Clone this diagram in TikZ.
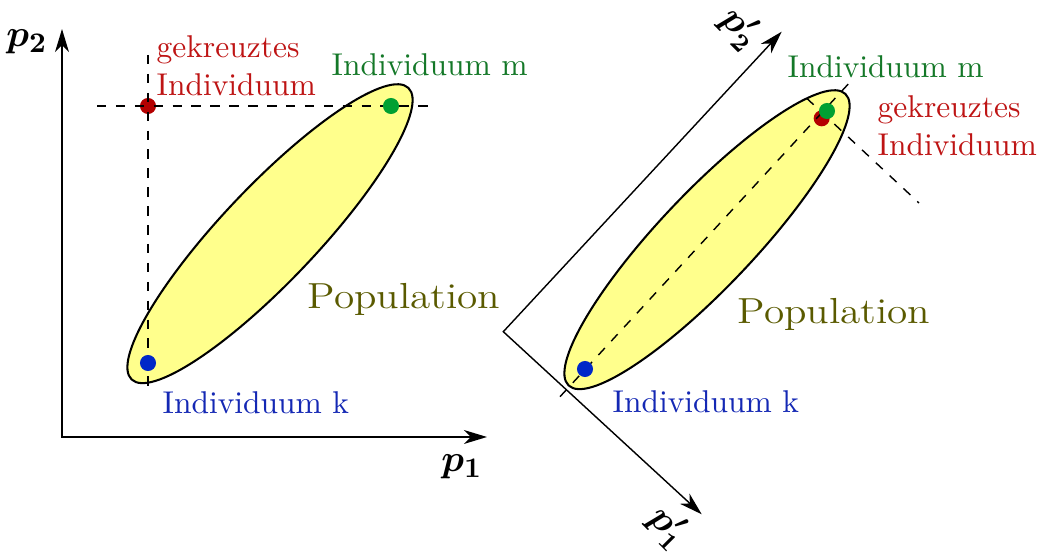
\documentclass[tikz,border=0pt]{standalone}
\usepackage{graphicx}
\usepackage{bm}
\usetikzlibrary{arrows.meta}
\definecolor{popyellow}{RGB}{255,255,140}
\definecolor{reddot}{RGB}{180,0,0}
\definecolor{redtext}{RGB}{190,20,20}
\definecolor{greendot}{RGB}{0,160,50}
\definecolor{greentext}{RGB}{20,120,40}
\definecolor{bluedot}{RGB}{0,40,200}
\definecolor{bluetext}{RGB}{20,40,180}
\definecolor{olivetext}{RGB}{90,90,0}
\begin{document}
\begin{tikzpicture}[x=0.3175pt,y=0.3175pt,
  >={Stealth[length=7.3pt,width=4.4pt,inset=2.2pt]},
  axisL/.style={line width=0.6pt,<->},
  axisR/.style={line width=0.45pt,<->},
  guide/.style={dashed,line width=0.45pt},
  pop/.style={fill=popyellow,draw=black,line width=0.65pt},
  dot/.style={circle,inner sep=0pt,minimum size=5.1pt},
  lbl/.style={inner sep=0pt,anchor=base west,font=\fontsize{10}{12}\selectfont},
  lbltwo/.style={inner sep=0pt,anchor=north west,align=left,font=\fontsize{10}{12}\selectfont},
  poplbl/.style={inner sep=0pt,anchor=base west,text=olivetext,font=\fontsize{11.5}{14}\selectfont},
  axlbl/.style={inner sep=0pt,font=\fontsize{12.5}{15}\selectfont},
  raxlbl/.style={inner sep=0pt,rotate=-45,font=\fontsize{11.5}{14}\selectfont}]
\useasboundingbox (0,0) rectangle (1043,556);

% ---------- left picture ----------
\coordinate (O) at (62,119);
\coordinate (Ytip) at (62,527);
\coordinate (Xtip) at (487,119);
\draw[axisL] (Ytip) -- (O) -- (Xtip);

\draw[pop,rotate around={46.5:(270,322.3)}] (270,322.3) ellipse [x radius=63.82pt,y radius=15.08pt];

\node[dot,fill=reddot] (rL) at (148,450) {};
\coordinate (hL1) at (97,450);
\coordinate (hL2) at (437,450);
\coordinate (vL1) at (148,501);
\coordinate (vL2) at (148,161);
\draw[guide] (hL1) -- (hL2);
\draw[guide] (vL1) -- (vL2);
\node[dot,fill=greendot] (gL) at (391,450) {};
\node[dot,fill=bluedot] (bL) at (148,193) {};

\node[lbltwo,text=redtext] (tRL) at (156,521) {gekreuztes\\Individuum};
\node[lbl,text=greentext] (tGL) at (331,480) {Individuum m};
\node[lbl,text=bluetext] (tBL) at (162,142.7) {Individuum k};
\node[poplbl] (tPL) at (307,247.7) {\scalebox{1.14}[1]{Population}};
\node[axlbl] (lp2) at (27,514) {$\bm{p}_{\bm{2}}$};
\node[axlbl] (lp1) at (462,89) {$\bm{p}_{\bm{1}}$};

% ---------- right picture ----------
\coordinate (O2) at (503.3,224.3);
\coordinate (P2tip) at (781.7,524.3);
\coordinate (P1tip) at (701.7,41.7);
\draw[axisR] (P2tip) -- (O2) -- (P1tip);

\draw[pop,rotate around={46.5:(707,316.3)}] (707,316.3) ellipse [x radius=63.82pt,y radius=15.08pt];

\node[dot,fill=reddot] (rR) at (821.7,437.7) {};
\coordinate (dA1) at (560,159.3);
\coordinate (dA2) at (848.3,472);
\coordinate (dB1) at (806.7,457.7);
\coordinate (dB2) at (919,353);
\draw[guide] (dA1) -- (dA2);
\draw[guide] (dB1) -- (dB2);
\node[dot,fill=greendot] (gR) at (827,445) {};
\node[dot,fill=bluedot] (bR) at (585,187) {};

\node[lbltwo,text=redtext] (tRR) at (877,460.5) {gekreuztes\\Individuum};
\node[lbl,text=greentext] (tGR) at (787,478.3) {Individuum m};
\node[lbl,text=bluetext] (tBR) at (612,143.3) {Individuum k};
\node[poplbl] (tPR) at (737,232) {\scalebox{1.14}[1]{Population}};
\node[raxlbl] (rp2) at (740,528) {$\bm{p'_2}$};
\node[raxlbl] (rp1) at (668,29) {$\bm{p'_1}$};
\end{tikzpicture}
\end{document}
